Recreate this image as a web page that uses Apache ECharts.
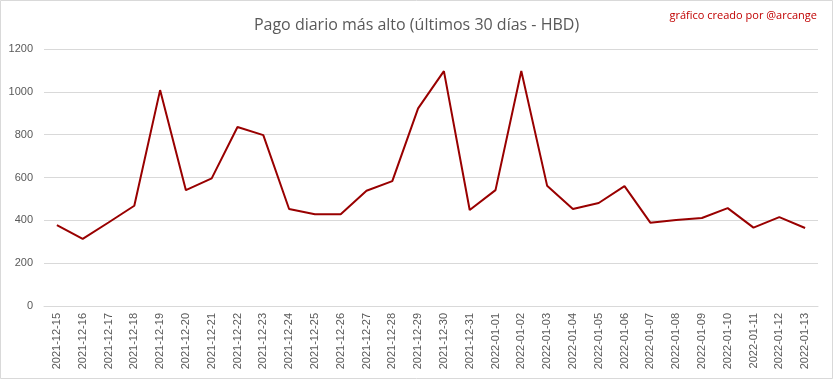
<!DOCTYPE html>
<html><head><meta charset="utf-8">
<script src="https://cdn.jsdelivr.net/npm/echarts@6/dist/echarts.min.js"></script>
<style>html,body{margin:0;padding:0;background:#fff}#c{width:833px;height:379px}</style>
</head><body><div id="c"></div>
<script>
const categories = ["2021-12-15","2021-12-16","2021-12-17","2021-12-18","2021-12-19","2021-12-20","2021-12-21","2021-12-22","2021-12-23","2021-12-24","2021-12-25","2021-12-26","2021-12-27","2021-12-28","2021-12-29","2021-12-30","2021-12-31","2022-01-01","2022-01-02","2022-01-03","2022-01-04","2022-01-05","2022-01-06","2022-01-07","2022-01-08","2022-01-09","2022-01-10","2022-01-11","2022-01-12","2022-01-13"];
const values = [378,313,390,468,1008,541,596,836,798,453,428,428,538,583,923,1097,448,541,1097,562,453,481,560,389,402,411,457,366,415,364];
const titleText = "Pago diario más alto (últimos 30 días - HBD)";
const creditText = "gráfico creado por @arcange";

const chart = echarts.init(document.getElementById('c'), null, {renderer:'canvas'});
chart.setOption({
  animation:false,
  backgroundColor:'#fff',
  title:[{text:titleText,left:'center',top:12,textStyle:{fontFamily:'Open Sans',fontSize:16,fontWeight:'normal',color:'#595959'}},
         {text:creditText,right:11,top:5,textStyle:{fontFamily:'Open Sans',fontSize:11,fontWeight:'normal',color:'#c00000'}}],
  graphic:[{type:'rect',shape:{x:0.5,y:0.5,width:832,height:378},style:{fill:'none',stroke:'#d9d9d9',lineWidth:1},silent:true}],
  grid:{left:44,right:15,top:49,bottom:73},
  xAxis:{type:'category',data:categories,boundaryGap:true,
    axisLine:{lineStyle:{color:'#d9d9d9'}},axisTick:{show:false},
    axisLabel:{rotate:90,interval:0,color:'#595959',fontFamily:'Liberation Sans',fontSize:11,margin:7}},
  yAxis:{type:'value',min:0,max:1200,interval:200,
    axisLine:{show:false},axisTick:{show:false},
    splitLine:{lineStyle:{color:'#d9d9d9'}},
    axisLabel:{color:'#595959',fontFamily:'Liberation Sans',fontSize:11,margin:11,formatter:v=>String(v)}},
  series:[{type:'line',data:values,symbol:'none',lineStyle:{color:'#990000',width:2}}]
});
</script></body></html>
